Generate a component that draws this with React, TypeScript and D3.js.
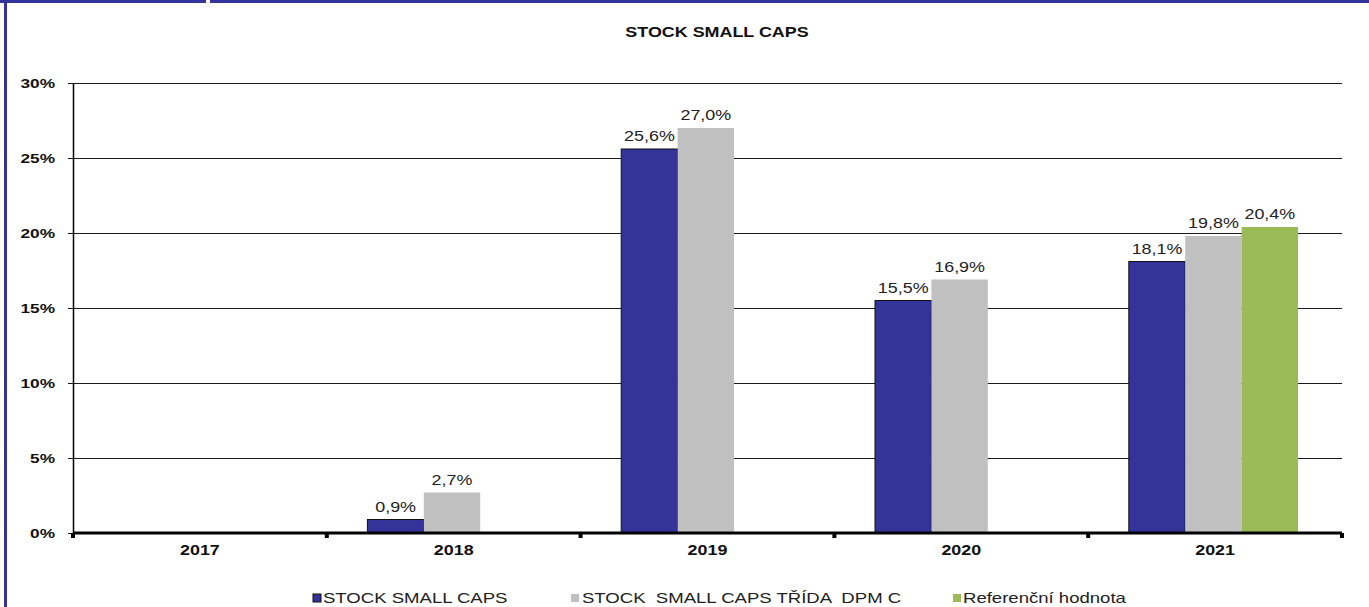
import React from "react";
import * as d3 from "d3";

const categories = ["2017", "2018", "2019", "2020", "2021"];
const seriesNames = ["STOCK SMALL CAPS", "STOCK  SMALL CAPS TŘÍDA  DPM C", "Referenční hodnota"];
const stockSmallCaps: (number | null)[] = [null, 0.9, 25.6, 15.5, 18.1];
const stockClassC: (number | null)[] = [null, 2.7, 27.0, 16.9, 19.8];
const reference: (number | null)[] = [null, null, null, null, 20.4];
const yTicks = [0, 5, 10, 15, 20, 25, 30];
const title = "STOCK SMALL CAPS";

const colors = ["#333399", "#C0C0C0", "#9BBB59"];
const SX = 1.28;
const FONT = "Arial, 'Liberation Sans', sans-serif";

function SText({ x, y, anchor, size, weight, fill, children }: any) {
  return (
    <g transform={`translate(${x},${y}) scale(${SX},1)`}>
      <text textAnchor={anchor} fontSize={size} fontWeight={weight} fill={fill} fontFamily={FONT}>
        {children}
      </text>
    </g>
  );
}

export default function App() {
  const W = 1369, H = 607;
  const left = 73, right = 1342, top = 83, bottom = 533;
  const x = d3.scaleBand<string>().domain(categories).range([left, right]).paddingInner(0).paddingOuter(0);
  const y = d3.scaleLinear().domain([0, 30]).range([bottom, top]);
  const series = [stockSmallCaps, stockClassC, reference];
  const bw = x.bandwidth() / 4.5;
  const offset = bw * 0.72;
  const fmt = (v: number) => v.toFixed(1).replace(".", ",") + "%";

  const legendPos = [{ mx: 313, tx: 323 }, { mx: 571, tx: 582 }, { mx: 953, tx: 963 }];

  return (
    <svg width={W} height={H} style={{ position: "absolute", left: 0, top: 0, background: "#fff" }}>
      <rect x={0} y={0} width={W} height={H} fill="#fff" />
      {/* frame */}
      <rect x={0} y={0} width={W} height={3} fill="#333399" />
      <rect x={4} y={0} width={3} height={H} fill="#333399" />
      <rect x={206} y={0} width={4} height={3} fill="#fff" />

      <SText x={717} y={37} anchor="middle" size={14} weight="bold" fill="#111">{title}</SText>

      {/* gridlines & y ticks */}
      {yTicks.map((t) => (
        <g key={t}>
          {t > 0 && <line x1={68} x2={right} y1={y(t) + 0.5} y2={y(t) + 0.5} stroke="#1a1a1a" strokeWidth={1} />}
          <line x1={68} x2={left} y1={y(t) + 0.5} y2={y(t) + 0.5} stroke="#1a1a1a" strokeWidth={1} />
          <SText x={55} y={y(t) + 5} anchor="end" size={13.5} weight="bold" fill="#111">{t + "%"}</SText>
        </g>
      ))}
      <line x1={left + 0.5} x2={left + 0.5} y1={top} y2={bottom} stroke="#000" strokeWidth={1.5} />

      {/* bars */}
      {categories.map((c, ci) => (
        <g key={c}>
          {series.map((s, si) => {
            const v = s[ci];
            if (v === null || v === undefined) return null;
            const bx = (x(c) as number) + offset + si * bw;
            const by = y(v);
            return (
              <g key={si}>
                <rect
                  x={bx}
                  y={by}
                  width={bw}
                  height={bottom - by}
                  fill={colors[si]}
                  stroke={si === 0 ? "#111" : "none"}
                  strokeWidth={si === 0 ? 1 : 0}
                />
                <SText x={bx + bw / 2} y={by - 8} anchor="middle" size={14} weight="normal" fill="#222">{fmt(v)}</SText>
              </g>
            );
          })}
        </g>
      ))}

      {/* x axis */}
      <line x1={left} x2={right} y1={bottom} y2={bottom} stroke="#000" strokeWidth={3} />
      {d3.range(categories.length + 1).map((i) => {
        const px = left + i * x.bandwidth();
        return <rect key={i} x={px - 2} y={bottom} width={4} height={5} fill="#000" />;
      })}
      {categories.map((c) => (
        <SText key={c} x={(x(c) as number) + x.bandwidth() / 2} y={555} anchor="middle" size={14} weight="bold" fill="#111">{c}</SText>
      ))}

      {/* legend */}
      {seriesNames.map((n, i) => (
        <g key={n}>
          <rect x={legendPos[i].mx} y={594} width={8} height={8} fill={colors[i]} stroke={i === 0 ? "#111" : "none"} strokeWidth={1} />
          <g transform={`translate(${legendPos[i].tx},${603}) scale(${SX},1)`}>
            <text fontSize={14.5} fontFamily={FONT} fill="#222" style={{ whiteSpace: "pre" }} xmlSpace="preserve">{n}</text>
          </g>
        </g>
      ))}
    </svg>
  );
}
